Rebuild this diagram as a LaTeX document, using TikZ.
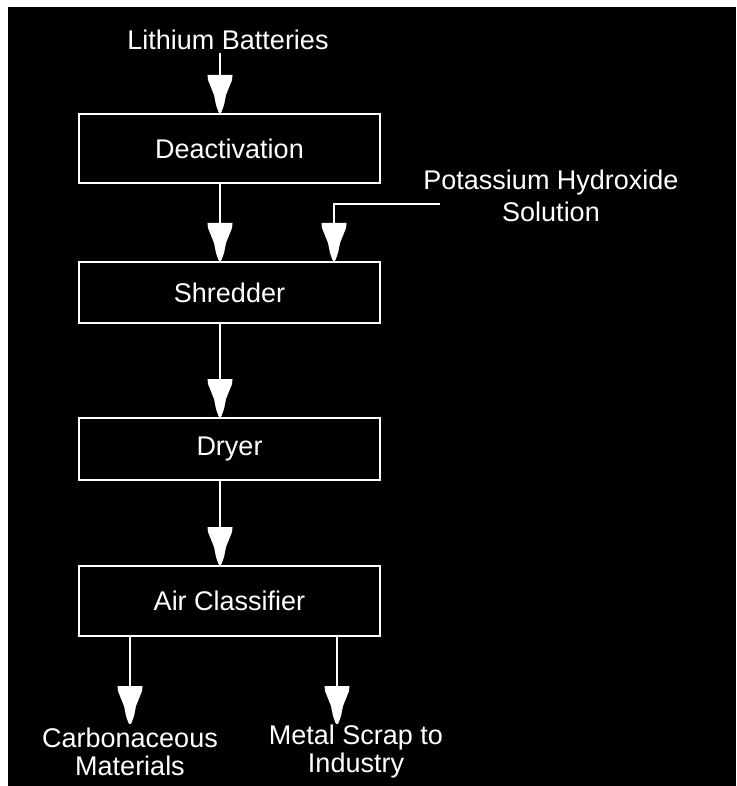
\documentclass[tikz,border=0pt]{standalone}
\usepackage{fontspec}
\setmainfont{Liberation Sans}
\begin{document}
\begin{tikzpicture}[x=1pt,y=-1pt,
  every node/.style={text=white,font=\fontsize{27}{32}\selectfont},
  stagebox/.style={draw=white,line width=2pt,minimum width=301pt,inner sep=0pt,anchor=center},
  flow/.style={draw=white,line width=1.6pt},
  funnel/.pic={\fill[white] (0,0) -- (-1.5,-1) -- (-4,-8) -- (-6,-18) -- (-10,-28)
      -- (-12,-33) -- (-12.5,-38) -- (12.5,-38) -- (12,-33) -- (10,-28) -- (6,-18)
      -- (4,-8) -- (1.5,-1) -- cycle;}]
  % page and dark panel
  \useasboundingbox (0,0) rectangle (736,786);
  \fill[white] (0,0) rectangle (736,786);
  \fill[black] (8,7) rectangle (736,786);

  % process stages
  \node[stagebox,minimum height=69pt] (dea) at (229.5,148.5) {Deactivation};
  \node[stagebox,minimum height=61pt] (shr) at (229.5,292.5) {Shredder};
  \node[stagebox,minimum height=62pt] (dry) at (229.5,449) {Dryer};
  \node[stagebox,minimum height=70pt] (air) at (229.5,601) {Air Classifier};

  % feeds and products
  \node (lit) at (228,40) {Lithium Batteries};
  \node[align=center] (koh) at (551,196) {Potassium Hydroxide\\Solution};
  \node[align=center,font=\fontsize{27}{28}\selectfont] (carb) at (130,752) {Carbonaceous\\Materials};
  \node[align=center,font=\fontsize{27}{28}\selectfont] (metal) at (356,752) {Metal Scrap to\\Industry};

  % connector columns
  \coordinate (colA) at (220,0);
  \coordinate (colB) at (334,0);
  \coordinate (colL) at (130,0);
  \coordinate (colR) at (337,0);
  \coordinate (kohend) at (440,204);
  \coordinate (carbtip) at (130,724);
  \coordinate (metaltip) at (337,724);

  \draw[flow] (colA |- lit.south) -- (colA |- dea.north);
  \pic at (colA |- dea.north) {funnel};

  \draw[flow] (colA |- dea.south) -- (colA |- shr.north);
  \pic at (colA |- shr.north) {funnel};

  \draw[flow] (kohend) -- (colB |- kohend) -- (colB |- shr.north);
  \pic at (colB |- shr.north) {funnel};

  \draw[flow] (colA |- shr.south) -- (colA |- dry.north);
  \pic at (colA |- dry.north) {funnel};

  \draw[flow] (colA |- dry.south) -- (colA |- air.north);
  \pic at (colA |- air.north) {funnel};

  \draw[flow] (colL |- air.south) -- (carbtip);
  \pic at (carbtip) {funnel};

  \draw[flow] (colR |- air.south) -- (metaltip);
  \pic at (metaltip) {funnel};
\end{tikzpicture}
\end{document}
